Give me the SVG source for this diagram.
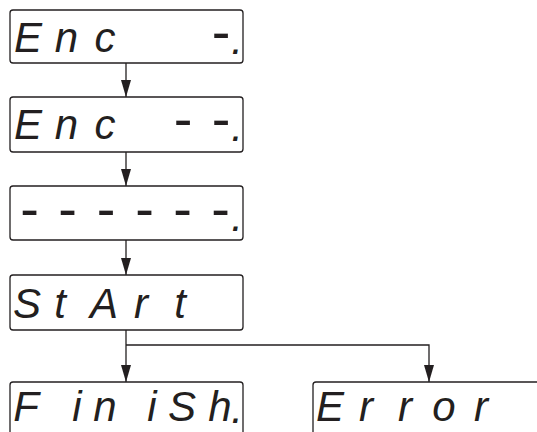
<svg xmlns="http://www.w3.org/2000/svg" width="537" height="432" viewBox="0 0 537 432">
<defs>
<style>
.box{fill:#fff;stroke:#231f20;stroke-width:1.3}
.seg{font-family:"Liberation Sans",Arial,sans-serif;font-style:italic;font-size:42px;fill:#231f20;text-anchor:middle;white-space:pre}
.d{font-size:56px;font-style:normal}
.conn{fill:none;stroke:#231f20;stroke-width:1.3}
</style>
<marker id="arr" markerUnits="userSpaceOnUse" markerWidth="18" markerHeight="10" refX="17" refY="5" orient="auto" viewBox="0 0 18 10">
<path d="M0 0 L17 5 L0 10 Z" fill="#231f20"/>
</marker>
</defs>
<g id="connectors">
<path class="conn" d="M126 63 V97" marker-end="url(#arr)"/>
<path class="conn" d="M126 152 V186" marker-end="url(#arr)"/>
<path class="conn" d="M126 240 V275" marker-end="url(#arr)"/>
<path class="conn" d="M126 330 V382" marker-end="url(#arr)"/>
<path class="conn" d="M126 345 H429 V382" marker-end="url(#arr)"/>
</g>
<g id="enc1">
<rect class="box" x="10" y="10" width="233" height="53" rx="3"/>
<text class="seg" xml:space="preserve"><tspan x="28 66.5 105 143.5 182" y="52">Enc  </tspan><tspan class="d" x="221" y="51">-</tspan><tspan x="237" y="54">.</tspan></text>
</g>
<g id="enc2">
<rect class="box" x="10" y="97" width="233" height="55" rx="3"/>
<text class="seg" xml:space="preserve"><tspan x="28 66.5 105 143.5" y="139">Enc </tspan><tspan class="d" x="183 221" y="138">--</tspan><tspan x="237" y="141">.</tspan></text>
</g>
<g id="dashes">
<rect class="box" x="10" y="186" width="233" height="54" rx="3"/>
<text class="seg" xml:space="preserve"><tspan class="d" x="29.5 67.5 106 144.5 182.5 220.5" y="228">------</tspan><tspan x="237" y="231">.</tspan></text>
</g>
<g id="start">
<rect class="box" x="10" y="275" width="233" height="55" rx="3"/>
<text class="seg" xml:space="preserve" x="27 60 104 141 180" y="318 318 318 318 318">StArt</text>
</g>
<g id="finish">
<rect class="box" x="10" y="382" width="233" height="60" rx="3"/>
<text class="seg" xml:space="preserve" x="26 77 105 152 182 220 237" y="421 421 421 421 421 421 423">FiniSh.</text>
</g>
<g id="error">
<rect class="box" x="313" y="382" width="240" height="60" rx="3"/>
<text class="seg" xml:space="preserve" x="330 366 405 444 481" y="421 421 421 421 421">Error</text>
</g>
</svg>
